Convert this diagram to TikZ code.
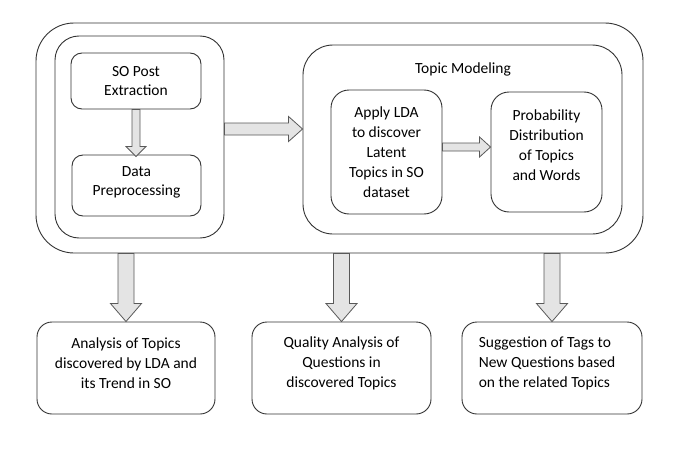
\documentclass[tikz,border=0pt]{standalone}
\usepackage{fontspec}
\setmainfont{Carlito}
\usetikzlibrary{calc}
\definecolor{arrfill}{HTML}{E4E4E4}
\definecolor{linec}{HTML}{333333}
\tikzset{
  box/.style={draw=linec, line width=0.9pt, rectangle, inner sep=0pt,
    font=\fontsize{15.5}{20}\selectfont, align=center},
  blockarr/.style={draw=black!65, fill=arrfill, line width=0.8pt, line join=miter},
}
% vertical block arrow: from #1 down to #2, half shaft #3, half head #4, head length #5
\newcommand\vblockarrow[5]{%
  \filldraw[blockarr] let \p1=#1, \p2=#2 in
    (\x1-#3,\y1) -- (\x1-#3,\y2+#5) -- (\x1-#4,\y2+#5) -- (\x1,\y2)
    -- (\x1+#4,\y2+#5) -- (\x1+#3,\y2+#5) -- (\x1+#3,\y1) -- cycle;}
% horizontal block arrow: from #1 right to #2
\newcommand\hblockarrow[5]{%
  \filldraw[blockarr] let \p1=#1, \p2=#2 in
    (\x1,\y1-#3) -- (\x2-#5,\y1-#3) -- (\x2-#5,\y1-#4) -- (\x2,\y1)
    -- (\x2-#5,\y1+#4) -- (\x2-#5,\y1+#3) -- (\x1,\y1+#3) -- cycle;}
\begin{document}
\begin{tikzpicture}[x=1pt,y=-1pt]
\useasboundingbox[fill=white] (0,0) rectangle (678,455);

% outer frame
\node[box, minimum width=607pt, minimum height=230pt, rounded corners=38pt] (outer) at (339.5,138) {};
% left group
\node[box, minimum width=169pt, minimum height=202pt, rounded corners=24pt] (left) at (139.5,137) {};
\node[box, minimum width=130pt, minimum height=56pt, rounded corners=11pt] (sope) at (136,81) {};
\node at (136,81.5) [font=\fontsize{15.5}{19}\selectfont, align=center] (sopet) {SO Post\\Extraction};
\node[box, minimum width=129pt, minimum height=61pt, rounded corners=11pt] (dp) at (136.5,185.5) {};
\node at (136.5,182.5) [font=\fontsize{15.5}{19}\selectfont, align=center] (dpt) {Data\\Preprocessing};

% topic modeling group
\node[box, minimum width=319pt, minimum height=189pt, rounded corners=30pt] (tm) at (462.5,139.5) {};
\node[font=\fontsize{15.5}{20}\selectfont] (tmt) at (463,69) {Topic Modeling};
\node[box, minimum width=111pt, minimum height=124pt, rounded corners=18pt] (lda) at (386.5,152) {};
\node[font=\fontsize{15.5}{20}\selectfont, align=center] (ldat) at (386.5,152) {Apply LDA\\to discover\\Latent\\Topics in SO\\dataset};
\node[box, minimum width=111pt, minimum height=120pt, rounded corners=18pt] (prob) at (546.5,152) {};
\node[font=\fontsize{15.5}{20}\selectfont, align=center] (probt) at (546.5,145) {Probability\\Distribution\\of Topics\\and Words};

% bottom boxes
\node[box, minimum width=178pt, minimum height=92pt, rounded corners=15pt] (b1) at (126,368) {};
\node[font=\fontsize{15.5}{20}\selectfont, align=center] (b1t) at (126,363) {Analysis of Topics\\discovered by LDA and\\its Trend in SO};
\node[box, minimum width=179pt, minimum height=92pt, rounded corners=15pt] (b2) at (341.5,368) {};
\node[font=\fontsize{15.5}{20}\selectfont, align=center] (b2t) at (341.5,363) {Quality Analysis of\\Questions in\\discovered Topics};
\node[box, minimum width=180pt, minimum height=92pt, rounded corners=15pt] (b3) at (552,368) {};
\node[font=\fontsize{15.5}{20}\selectfont, align=left] (b3t) at (547,363) {Suggestion of Tags to\\New Questions based\\on the related Topics};

% block arrows
\vblockarrow{(sope.south)}{($(dp.north)+(0,2)$)}{4pt}{10pt}{10pt}
\hblockarrow{(left.east |- 0,129)}{(tm.west |- 0,129)}{6pt}{12.5pt}{14pt}
\hblockarrow{(lda.east |- 0,147)}{(prob.west |- 0,147)}{4pt}{10pt}{11pt}
\vblockarrow{(outer.south -| b1.north)}{(b1.north)}{8pt}{15.5pt}{18pt}
\vblockarrow{(outer.south -| b2.north)}{(b2.north)}{8pt}{15.5pt}{18pt}
\vblockarrow{(outer.south -| b3.north)}{(b3.north)}{8pt}{15.5pt}{18pt}
\end{tikzpicture}
\end{document}
